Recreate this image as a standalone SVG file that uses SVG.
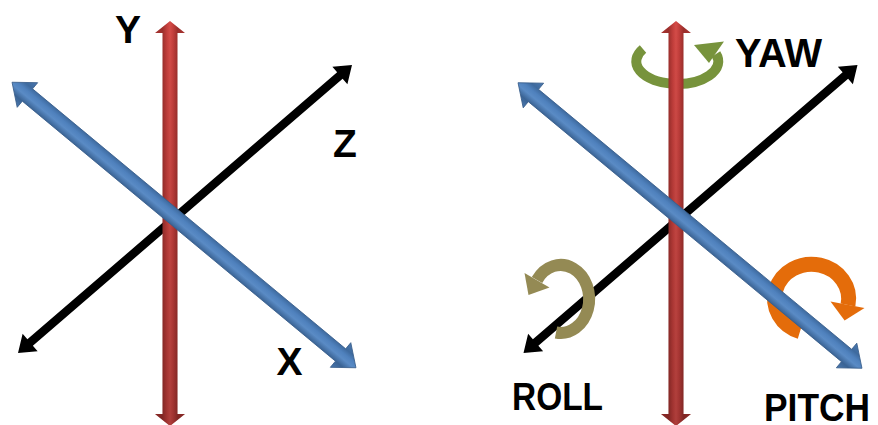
<svg xmlns="http://www.w3.org/2000/svg" width="878" height="425" viewBox="0 0 878 425">
<defs>
<style>
.lbl{font-family:"Liberation Sans",Arial,sans-serif;font-weight:bold;fill:#000;}
.blk{fill:#000;}
.red{fill:url(#gRed);}
.redshade{fill:url(#gRedV);}
.blue{fill:url(#gBlue);stroke:#385D8A;stroke-width:0.8;}
.rot{fill:none;stroke-linecap:butt;}
</style>
<linearGradient id="gRed" gradientUnits="userSpaceOnUse" x1="-15" y1="0" x2="15" y2="0">
<stop offset="0" stop-color="#A8322F"/>
<stop offset="0.25" stop-color="#9C2F2C"/>
<stop offset="0.4" stop-color="#C43F3C"/>
<stop offset="0.5" stop-color="#D44C48"/>
<stop offset="0.6" stop-color="#C43F3C"/>
<stop offset="0.75" stop-color="#9C2F2C"/>
<stop offset="1" stop-color="#A8322F"/>
</linearGradient>
<linearGradient id="gRedV" gradientUnits="userSpaceOnUse" x1="0" y1="20" x2="0" y2="426">
<stop offset="0" stop-color="#000" stop-opacity="0"/>
<stop offset="1" stop-color="#000" stop-opacity="0.18"/>
</linearGradient>
<linearGradient id="gBlue" gradientUnits="userSpaceOnUse" x1="0" y1="-16" x2="0" y2="16">
<stop offset="0" stop-color="#4A78AF"/>
<stop offset="0.25" stop-color="#3E6A9E"/>
<stop offset="0.4" stop-color="#4F81BD"/>
<stop offset="0.55" stop-color="#5A8BC5"/>
<stop offset="0.75" stop-color="#3A6394"/>
<stop offset="1" stop-color="#4A78AF"/>
</linearGradient>
<polygon id="blackArrow" class="blk" points="-220.5,0 -204.5,-11.5 -204.5,-4.2 204.5,-4.2 204.5,-11.5 220.5,0 204.5,11.5 204.5,4.2 -204.5,4.2 -204.5,11.5"/>
<polygon id="blueArrow" class="blue" points="-223.5,0 -203.5,-16 -203.5,-8 203.5,-8 203.5,-16 223.5,0 203.5,16 203.5,8 -203.5,8 -203.5,16"/>
<g id="redArrow">
<polygon class="red" points="0,21 15,33 7.5,33 7.5,414 15,414 0,426 -15,414 -7.5,414 -7.5,33 -15,33"/>
<polygon class="redshade" points="0,21 15,33 7.5,33 7.5,414 15,414 0,426 -15,414 -7.5,414 -7.5,33 -15,33"/>
</g>
</defs>

<g id="left-diagram">
<g id="axis-z-left"><use href="#blackArrow" transform="translate(185,209) rotate(-40.77)"/></g>
<g id="axis-y-left"><use href="#redArrow" transform="translate(170,0)"/></g>
<g id="axis-x-left"><use href="#blueArrow" transform="translate(184,225) rotate(39.7)"/></g>
<text class="lbl" x="128" y="43" font-size="39" text-anchor="middle">Y</text>
<text class="lbl" x="345" y="157" font-size="39" text-anchor="middle">Z</text>
<text class="lbl" x="289.5" y="375" font-size="39" text-anchor="middle">X</text>
</g>

<g id="right-diagram">
<g id="axis-z-right"><use href="#blackArrow" transform="translate(690.5,209) rotate(-40.77)"/></g>
<g id="roll">
<path class="rot" stroke="#948A54" stroke-width="12" d="M556,332.5 A28.5,34 0 1 0 537,280"/>
<polygon fill="#948A54" points="549.5,287.5 524.5,273 528.5,295"/>
</g>
<g id="yaw">
<path class="rot" stroke="#77933C" stroke-width="10" d="M643,49 A41,22.5 0 1 0 716,54"/>
<polygon fill="#77933C" points="694,45 724,41.5 709,63"/>
</g>
<g id="axis-y-right"><use href="#redArrow" transform="translate(676,0)"/></g>
<g id="pitch">
<path class="rot" stroke="#E46C0A" stroke-width="15" d="M800,331.5 A37,34.5 0 1 1 848,305"/>
<polygon fill="#E46C0A" points="864.5,308 830.5,301.5 844.6,320.5"/>
</g>
<g id="axis-x-right"><use href="#blueArrow" transform="translate(690,225.5) rotate(39.7)"/></g>
<text class="lbl" x="735" y="67" font-size="41" textLength="87" lengthAdjust="spacingAndGlyphs">YAW</text>
<text class="lbl" x="512" y="410" font-size="38" textLength="91" lengthAdjust="spacingAndGlyphs">ROLL</text>
<text class="lbl" x="764" y="421" font-size="38" textLength="106" lengthAdjust="spacingAndGlyphs">PITCH</text>
</g>
</svg>
